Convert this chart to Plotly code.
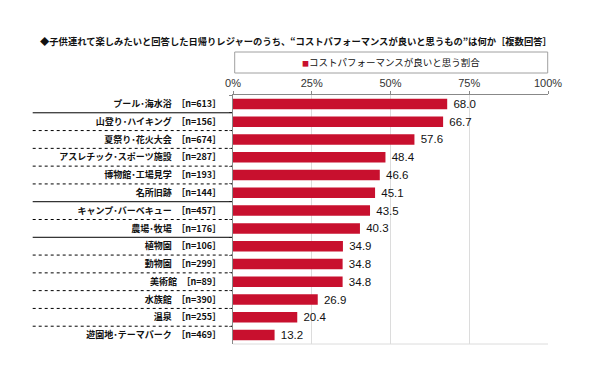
import plotly.graph_objects as go

categories = [
    "プール･海水浴", "山登り･ハイキング", "夏祭り･花火大会", "アスレチック･スポーツ施設",
    "博物館･工場見学", "名所旧跡", "キャンプ･バーベキュー", "農場･牧場",
    "植物園", "動物園", "美術館", "水族館", "温泉", "遊園地･テーマパーク",
]
sample_sizes = [613, 156, 674, 287, 193, 144, 457, 176, 106, 299, 89, 390, 255, 469]
values = [68.0, 66.7, 57.6, 48.4, 46.6, 45.1, 43.5, 40.3, 34.9, 34.8, 34.8, 26.9, 20.4, 13.2]
# separator style below each row (last row has none)
separators = ["solid", "dot", "dot", "dot", "dot", "solid", "dot", "solid",
              "dot", "dot", "dot", "dot", "dot"]
x_ticks = [0, 25, 50, 75, 100]
x_tick_labels = ["0%", "25%", "50%", "75%", "100%"]
series_name = "コストパフォーマンスが良いと思う割合"
title_text = "◆子供連れて楽しみたいと回答した日帰りレジャーのうち、“コストパフォーマンスが良いと思うもの”は何か［複数回答］"

labels = [f"{c}\u2002［n={n}］" for c, n in zip(categories, sample_sizes)]

BAR = "#C8102E"
JP = "Noto Sans CJK JP"

fig = go.Figure()
fig.add_trace(go.Bar(
    x=values, y=labels, orientation="h",
    marker=dict(color=BAR, line=dict(width=0)),
    texttemplate="\u00a0%{x:.1f}", textposition="outside", constraintext="none",
    textfont=dict(family="Liberation Sans, Arial", size=11.5, color="#111"),
    cliponaxis=False, showlegend=False, name=series_name,
    hoverinfo="x+y",
))

shapes = []
L, R = 233.3, 548.3
W = R - L
x_left = (33 - L) / W
for i, style in enumerate(separators):
    shapes.append(dict(type="line", xref="paper", yref="y",
                       x0=x_left, x1=-0.003, y0=i + 0.5, y1=i + 0.5,
                       line=dict(color="#000", width=1,
                                 dash="solid" if style == "solid" else "dot")))
# bottom border of plot area
shapes.append(dict(type="line", xref="paper", yref="paper", x0=0, x1=1, y0=0, y1=0,
                   line=dict(color="#dcdcdc", width=1)))
# legend box
shapes.append(dict(type="rect", xref="paper", yref="paper",
                   x0=(235 - L) / W, x1=(548 - L) / W,
                   y0=(344 - 73) / 249, y1=(344 - 52) / 249,
                   line=dict(color="#a0a0a0", width=1), fillcolor="white"))

annotations = [
    dict(text=f"<span style='color:{BAR};font-size:7px'>■</span>{series_name}",
         xref="paper", yref="paper", x=(391 - L) / W, y=(344 - 62.5) / 249,
         xanchor="center", yanchor="middle", showarrow=False,
         font=dict(family=JP, size=9.5, color="#111")),
]

fig.update_layout(
    width=600, height=375,
    margin=dict(l=233, r=52, t=95, b=31, autoexpand=False),
    paper_bgcolor="white", plot_bgcolor="white",
    title=dict(text=title_text, x=40 / 600, xanchor="left", xref="container",
               y=1 - 42 / 375, yanchor="middle", yref="container",
               font=dict(family=JP, size=9.3, color="#111", weight="bold")),
    bargap=0.41,
    shapes=shapes, annotations=annotations,
    xaxis=dict(side="top", range=[0, 100], tickmode="array", tickvals=x_ticks,
               ticktext=x_tick_labels, automargin=False,
               showgrid=True, gridcolor="#dcdcdc", gridwidth=1,
               showline=True, linecolor="#888", linewidth=1,
               ticks="outside", ticklen=3, tickcolor="#888",
               tickfont=dict(family="Liberation Sans, Arial", size=11, color="#333"),
               zeroline=False, fixedrange=True),
    yaxis=dict(autorange=False, range=[13.5, -0.5], categoryorder="array",
               categoryarray=labels, automargin=False,
               showline=True, linecolor="#888", linewidth=1,
               ticks="outside", ticklen=3, tickcolor="#888", tickson="boundaries",
               tickfont=dict(family=JP, size=9, color="#111", weight="bold"),
               ticklabelstandoff=9, showgrid=False, fixedrange=True),
)

fig.write_html("out.html", config={"displayModeBar": False},
               post_script="document.body.style.margin='0';")
